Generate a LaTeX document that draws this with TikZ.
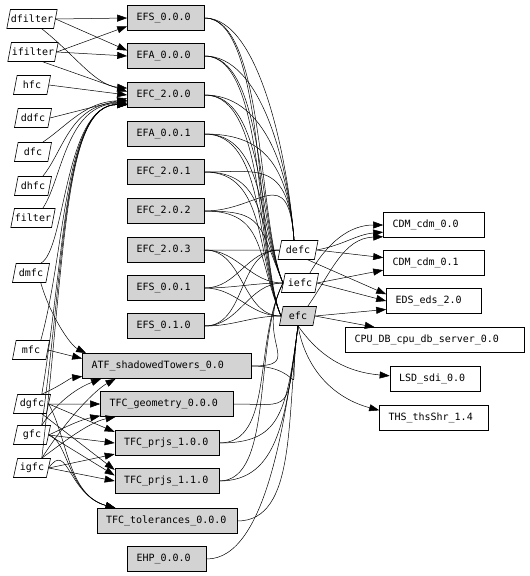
\documentclass[tikz,border=0pt]{standalone}
\usepackage{fontspec}
\setmonofont{DejaVu Sans Mono}
\usetikzlibrary{shapes.geometric}
\usetikzlibrary{arrows.meta}
\definecolor{boxgray}{HTML}{D3D3D3}

\begin{document}
\begin{tikzpicture}[x=1pt, y=-1pt,
  every node/.style={draw, font=\ttfamily\fontsize{10}{11}\selectfont, line width=0.6pt},
  feat/.style={trapezium, trapezium left angle=76, trapezium right angle=104,
    trapezium stretches body=true, inner xsep=0.5pt, minimum height=19pt, minimum width=37pt},
  comp/.style={rectangle, fill=boxgray, inner xsep=9pt, minimum height=25pt, text width=#1, align=left},
  comp/.default=59pt,
  ext/.style={rectangle, inner xsep=9pt, minimum height=25pt, text width=#1, align=left},
  dep/.style={-{Triangle[length=10pt,width=7pt]}, line width=0.5pt},
  link/.style={line width=0.5pt}
]
\useasboundingbox (0,0) rectangle (530,576);

% features on the left
\node[feat] (dfilter) at (32,19) {dfilter};
\node[feat] (ifilter) at (33,52) {ifilter};
\node[feat] (hfc) at (32,85) {hfc};
\node[feat] (ddfc) at (33,118) {ddfc};
\node[feat] (dfc) at (33,152) {dfc};
\node[feat] (dhfc) at (33,186) {dhfc};
\node[feat] (filter) at (33,218) {filter};
\node[feat] (dmfc) at (31,273) {dmfc};
\node[feat] (mfc) at (31,350) {mfc};
\node[feat] (dgfc) at (32,404) {dgfc};
\node[feat] (gfc) at (32,435) {gfc};
\node[feat] (igfc) at (32,468) {igfc};

% components
\node[comp] (efs000) at (166,18) {EFS\_0.0.0};
\node[comp] (efa000) at (166,56) {EFA\_0.0.0};
\node[comp] (efc200) at (166,95) {EFC\_2.0.0};
\node[comp] (efa001) at (166,134) {EFA\_0.0.1};
\node[comp] (efc201) at (166,172) {EFC\_2.0.1};
\node[comp] (efc202) at (166,211) {EFC\_2.0.2};
\node[comp] (efc203) at (166,250) {EFC\_2.0.3};
\node[comp] (efs001) at (166,288) {EFS\_0.0.1};
\node[comp] (efs010) at (166,326) {EFS\_0.1.0};
\node[comp=151pt] (atf) at (167,366) {ATF\_shadowedTowers\_0.0};
\node[comp=115pt] (tfcgeo) at (167,404) {TFC\_geometry\_0.0.0};
\node[comp=86pt] (tfcp100) at (167,443) {TFC\_prjs\_1.0.0};
\node[comp=86pt] (tfcp110) at (167,481) {TFC\_prjs\_1.1.0};
\node[comp=122pt] (tfctol) at (167,521) {TFC\_tolerances\_0.0.0};
\node[comp=61pt] (ehp) at (167,559) {EHP\_0.0.0};

% middle
\node[feat, minimum width=40pt] (defc) at (298,250) {defc};
\node[feat] (iefc) at (300,283) {iefc};
\node[feat, fill=boxgray] (efc) at (298,316) {efc};

% right
\node[ext=83pt] (cdm00) at (434,225) {CDM\_cdm\_0.0};
\node[ext=83pt] (cdm01) at (434,263) {CDM\_cdm\_0.1};
\node[ext=77pt] (eds) at (434,301) {EDS\_eds\_2.0};
\node[ext=161pt] (cpu) at (435,340) {CPU\_DB\_cpu\_db\_server\_0.0};
\node[ext=72pt] (lsd) at (435,379) {LSD\_sdi\_0.0};
\node[ext=91pt] (ths) at (434,418) {THS\_thsShr\_1.4};

% left edges
\draw[dep] (dfilter.east) -- (efs000.west);
\draw[dep] (dfilter.east) -- (efa000.172);
\draw[dep] (dfilter.south east) .. controls (75,55) and (95,85) .. (efc200.170);
\draw[dep] (ifilter.east) -- (efs000.192);
\draw[dep] (ifilter.east) -- (efa000.west);
\draw[dep] (ifilter.south east) -- (efc200.175);
\draw[dep] (hfc.east) -- (efc200.180);
\draw[dep] (ddfc.east) -- (efc200.185);
\draw[dep] (dfc.north east) .. controls (68,125) and (85,102) .. (efc200.188);
\draw[dep] (dhfc.north east) .. controls (64,150) and (70,105) .. (efc200.190);
\draw[dep] (filter.north east) .. controls (62,180) and (66,104) .. (efc200.192);
\foreach \f in {dmfc,mfc,dgfc,gfc,igfc}
  \draw[dep] (\f.north east) .. controls (66,250) and (64,104) .. (efc200.194);

\draw[dep] (dmfc.south east) .. controls (50,315) and (70,345) .. (atf.171);
\draw[dep] (mfc.east) -- (atf.175);
\draw[dep] (dgfc.north east) .. controls (62,385) and (70,378) .. (atf.187);
\draw[dep] (gfc.north east) .. controls (62,395) and (85,385) .. (atf.191);
\draw[dep] (igfc.north east) .. controls (66,420) and (95,390) .. (atf.194);
\draw[dep] (dgfc.east) -- (tfcgeo.west);
\draw[dep] (gfc.east) .. controls (70,425) and (80,420) .. (tfcgeo.190);
\draw[dep] (igfc.north east) .. controls (66,440) and (90,422) .. (tfcgeo.194);
\draw[dep] (dgfc.east) -- (tfcp100.168);
\draw[dep] (gfc.east) -- (tfcp100.west);
\draw[dep] (igfc.east) -- (tfcp100.192);
\draw[dep] (dgfc.south east) -- (tfcp110.168);
\draw[dep] (gfc.east) -- (tfcp110.174);
\draw[dep] (igfc.east) -- (tfcp110.west);
\foreach \f in {dgfc,gfc,igfc}
  \draw[dep] (\f.east) .. controls (68,440) and (68,495) .. (tfctol.166);

% components to middle
\foreach \b in {efs000,efa000,efc200,efa001,efc201,efc202} {
  \draw[link] (\b.east) .. controls +(55,0) and +(-6,-80) .. (defc.112);
  \draw[link] (\b.east) .. controls +(60,0) and +(-25,-60) .. (iefc.west);
  \draw[link] (\b.east) .. controls +(62,0) and +(-25,-60) .. (efc.west);
}
\foreach \b in {efc203,efs001,efs010} {
  \draw[link] (\b.east) to[out=0,in=180] (defc.west);
  \draw[link] (\b.east) to[out=0,in=180] (iefc.west);
  \draw[link] (\b.east) to[out=0,in=180] (efc.west);
}
\foreach \b in {atf,tfcgeo,tfcp100,tfcp110,tfctol,ehp}
  \draw[link] (\b.east) .. controls +(60,0) and +(-12,90) .. (efc.south);
\foreach \b in {atf,tfcp100,tfcp110}
  \draw[link] (\b.east) .. controls +(55,0) and +(-30,60) .. (iefc.west);

% middle to right
\draw[dep] (defc.east) to[out=10,in=185] (cdm00.188);
\draw[dep] (defc.east) -- (cdm01.174);
\draw[dep] (defc.south east) -- (eds.172);
\draw[dep] (iefc.north east) to[out=60,in=180] (cdm00.west);
\draw[dep] (iefc.east) -- (cdm01.188);
\draw[dep] (iefc.east) -- (eds.180);
\draw[dep] (efc.north east) to[out=55,in=182] (cdm00.193);
\draw[dep] (efc.east) -- (eds.190);
\draw[dep] (efc.east) -- (cpu.168);
\draw[dep] (efc.south) to[out=-55,in=175] (lsd.176);
\draw[dep] (efc.south) to[out=-80,in=165] (ths.172);
\end{tikzpicture}
\end{document}
